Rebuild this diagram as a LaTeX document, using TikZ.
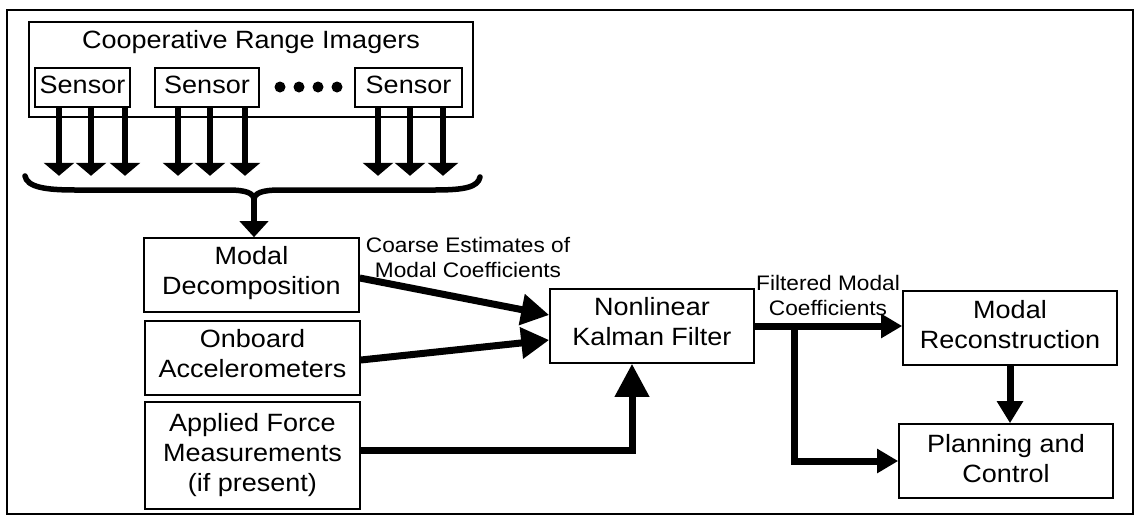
\documentclass[tikz,border=0pt]{standalone}
\usepackage{fontspec}
\setmainfont[FakeStretch=1.08]{Liberation Sans}
\usetikzlibrary{arrows.meta,calc}

\begin{document}
\begin{tikzpicture}[x=1pt,y=-1pt,
  bigfont/.style={font=\fontsize{25}{30}\selectfont},
  box/.style={draw,line width=1.6pt,rectangle,inner sep=0pt,align=center,bigfont},
  twoline/.style={box,text depth=9pt},
  lbl/.style={inner sep=0pt,align=center,anchor=south,font=\fontsize{21}{25}\selectfont},
  sarrow/.style={line width=6pt,-{Triangle[length=13pt,width=30pt]}},
  flow/.style={line width=7pt,-{Triangle[length=28pt,width=30pt]}},
  upflow/.style={line width=7pt,-{Triangle[length=33pt,width=33pt]}},
  outflow/.style={line width=7pt,-{Triangle[length=21pt,width=23pt]}},
  downflow/.style={line width=7pt,-{Triangle[length=22pt,width=25pt]}},
  stemflow/.style={line width=6pt,-{Triangle[length=16pt,width=28pt]}},
  brace/.style={line width=5.5pt,line join=round,line cap=round},
  dot/.style={circle,fill,inner sep=0pt,minimum size=11pt}
]
\useasboundingbox (0,0) rectangle (1135,517);

% outer frame
\node[draw,line width=1.5pt,minimum width=1126pt,minimum height=504pt,inner sep=0pt] (frame) at (570,262) {};

% range imager group with its sensors
\node[draw,line width=1.6pt,minimum width=444pt,minimum height=95pt,inner sep=0pt] (imagers) at (251,69.5) {};
\node[bigfont,anchor=base] (title) at (251,48) {Cooperative Range Imagers};
\node[box,text depth=6pt,minimum width=95pt,minimum height=39pt] (s1) at (82.5,87.5) {Sensor};
\node[box,text depth=6pt,minimum width=104pt,minimum height=39pt] (s2) at (207,87.5) {Sensor};
\node[box,text depth=6pt,minimum width=107pt,minimum height=39pt] (s3) at (408.5,87.5) {Sensor};
\node[dot] (d1) at (280,87) {};
\node[dot] (d2) at (299,87) {};
\node[dot] (d3) at (318,87) {};
\node[dot] (d4) at (337,87) {};

% sensor outputs
\foreach \dx in {-23.5,8.5,42.5} \draw[sarrow] ([xshift=\dx pt]s1.south) -- ++(0,68);
\foreach \dx in {-29,3,38} \draw[sarrow] ([xshift=\dx pt]s2.south) -- ++(0,68);
\foreach \dx in {-30.5,1.5,34.5} \draw[sarrow] ([xshift=\dx pt]s3.south) -- ++(0,68);

% processing blocks
\node[twoline,minimum width=215pt,minimum height=74pt] (md) at (251.5,275) {Modal\\Decomposition};
\node[twoline,minimum width=215pt,minimum height=74pt] (ob) at (252.5,358) {Onboard\\Accelerometers};
\node[box,minimum width=215pt,minimum height=107pt] (af) at (252.5,455.5) {Applied Force\\Measurements\\(if present)};
\node[twoline,minimum width=204pt,minimum height=74pt] (kf) at (652,326) {Nonlinear\\Kalman Filter};
\node[twoline,text depth=7pt,minimum width=214pt,minimum height=74pt] (mr) at (1010,328) {Modal\\Reconstruction};
\node[twoline,text depth=6pt,minimum width=214pt,minimum height=74pt] (pc) at (1006,461) {Planning and\\Control};

% brace collecting all sensor outputs
\coordinate (bt) at (254,200);
\draw[brace] (25,176) .. controls (27,187) and (45,190) .. (75,190) -- (228,190)
  .. controls (246,190) and (254,193) .. (bt)
  .. controls (254,193) and (262,190) .. (280,190) -- (435,190)
  .. controls (465,190) and (478,187) .. (480,177);
\draw[stemflow] (bt) -- (bt |- md.north);

% inputs to the filter
\draw[flow] ([yshift=-3pt]md.east) -- ([yshift=11pt]kf.west);
\draw[flow] ([yshift=-2pt]ob.east) -- ([yshift=-14pt]kf.west);
\draw[upflow] ([yshift=5.5pt]af.east) -| ([xshift=-20pt]kf.south);

% filter outputs
\draw[outflow] (kf.east) -- (kf.east -| mr.west);
\draw[outflow] ([xshift=40pt]kf.east) |- (pc.west);
\draw[downflow] (mr.south) -- (mr.south |- pc.north);

% connector labels
\node[lbl] (coarse) at (468,278) {Coarse Estimates of\\Modal Coefficients};
\node[lbl] (filtered) at (828,316) {Filtered Modal\\Coefficients};
\end{tikzpicture}
\end{document}
